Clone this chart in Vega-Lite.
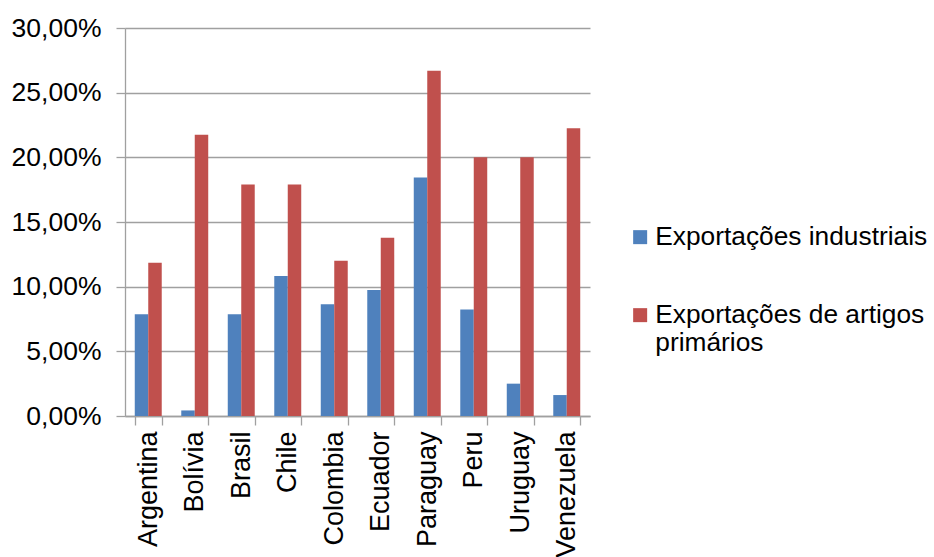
{
  "$schema": "https://vega.github.io/schema/vega-lite/v6.json",
  "autosize": {"type": "none"},
  "width": 465,
  "height": 388,
  "padding": {"left": 125, "top": 28, "right": 344, "bottom": 141},
  "background": "white",
  "config": {
    "view": {"stroke": null},
    "font": "Liberation Sans",
    "axis": {"labelFont": "Liberation Sans", "labelColor": "#000000", "domainColor": "#A0A0A0", "tickColor": "#A0A0A0", "gridColor": "#A0A0A0", "gridOpacity": 1, "gridWidth": 1.3, "domainWidth": 1.3, "tickWidth": 1.3}
  },
  "data": {
    "values": [
      {"pais": "Argentina", "serie": "Exportações industriais", "valor": 0.0786},
      {"pais": "Argentina", "serie": "Exportações de artigos primários", "valor": 0.1185},
      {"pais": "Bolívia", "serie": "Exportações industriais", "valor": 0.0043},
      {"pais": "Bolívia", "serie": "Exportações de artigos primários", "valor": 0.2175},
      {"pais": "Brasil", "serie": "Exportações industriais", "valor": 0.0786},
      {"pais": "Brasil", "serie": "Exportações de artigos primários", "valor": 0.179},
      {"pais": "Chile", "serie": "Exportações industriais", "valor": 0.1082},
      {"pais": "Chile", "serie": "Exportações de artigos primários", "valor": 0.179},
      {"pais": "Colombia", "serie": "Exportações industriais", "valor": 0.0865},
      {"pais": "Colombia", "serie": "Exportações de artigos primários", "valor": 0.12},
      {"pais": "Ecuador", "serie": "Exportações industriais", "valor": 0.0974},
      {"pais": "Ecuador", "serie": "Exportações de artigos primários", "valor": 0.1379},
      {"pais": "Paraguay", "serie": "Exportações industriais", "valor": 0.1845},
      {"pais": "Paraguay", "serie": "Exportações de artigos primários", "valor": 0.267},
      {"pais": "Peru", "serie": "Exportações industriais", "valor": 0.0824},
      {"pais": "Peru", "serie": "Exportações de artigos primários", "valor": 0.2},
      {"pais": "Uruguay", "serie": "Exportações industriais", "valor": 0.025},
      {"pais": "Uruguay", "serie": "Exportações de artigos primários", "valor": 0.2},
      {"pais": "Venezuela", "serie": "Exportações industriais", "valor": 0.0162},
      {"pais": "Venezuela", "serie": "Exportações de artigos primários", "valor": 0.2224}
    ]
  },
  "mark": {"type": "bar"},
  "encoding": {
    "x": {
      "field": "pais", "type": "nominal",
      "sort": ["Argentina", "Bolívia", "Brasil", "Chile", "Colombia", "Ecuador", "Paraguay", "Peru", "Uruguay", "Venezuela"],
      "scale": {"paddingInner": 0.42, "paddingOuter": 0.21},
      "axis": {"title": null, "labelAngle": -90, "labelAlign": "right", "labelBaseline": "middle", "labelFontSize": 27, "tickBand": "extent", "tickSize": 9, "labelPadding": 6}
    },
    "xOffset": {
      "field": "serie", "type": "nominal",
      "sort": ["Exportações industriais", "Exportações de artigos primários"]
    },
    "y": {
      "field": "valor", "type": "quantitative",
      "scale": {"domain": [0, 0.3], "nice": false},
      "axis": {"title": null, "values": [0, 0.05, 0.1, 0.15, 0.2, 0.25, 0.3], "labelExpr": "replace(format(datum.value, '.2%'), '.', ',')", "labelFontSize": 26.5, "tickSize": 9, "labelPadding": 15, "grid": true}
    },
    "color": {
      "field": "serie", "type": "nominal",
      "sort": ["Exportações industriais", "Exportações de artigos primários"],
      "scale": {"domain": ["Exportações industriais", "Exportações de artigos primários"], "range": ["#4F81BD", "#C0504D"]},
      "legend": {
        "title": null, "orient": "none", "legendX": 502, "legendY": 196,
        "symbolType": "square", "symbolSize": 196, "symbolStrokeWidth": 0,
        "labelFontSize": 26.3, "labelFont": "Liberation Sans", "labelColor": "#000000", "labelOffset": 2, "labelLimit": 400,
        "rowPadding": 51, "padding": 0,
        "labelExpr": "datum.label == 'Exportações de artigos primários' ? ['Exportações de artigos', 'primários'] : datum.label"
      }
    }
  }
}
